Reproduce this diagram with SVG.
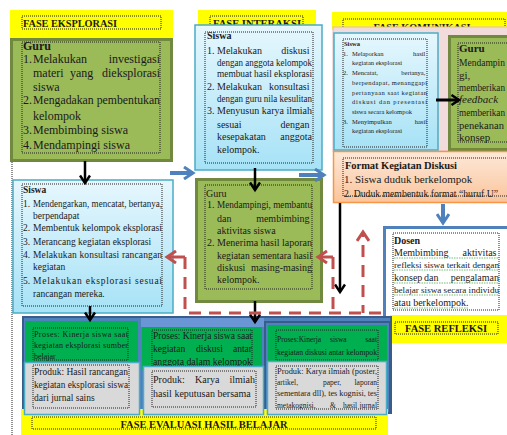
<svg xmlns="http://www.w3.org/2000/svg" width="507" height="435" viewBox="0 0 507 435">
<defs>
<linearGradient id="gBlue" x1="0" y1="0" x2="0" y2="1"><stop offset="0" stop-color="#E6F7FD"/><stop offset="1" stop-color="#A6E2F6"/></linearGradient>
<linearGradient id="gOrange" x1="0" y1="0" x2="0" y2="1"><stop offset="0" stop-color="#FDE9DA"/><stop offset="1" stop-color="#FAC49A"/></linearGradient>
<clipPath id="clipC3"><rect x="267" y="362" width="119" height="47"/></clipPath>
<marker id="ak" markerWidth="12" markerHeight="12" refX="9" refY="6" orient="auto" markerUnits="userSpaceOnUse"><path d="M1.5,1 L9,6 L1.5,11" fill="none" stroke="#000" stroke-width="2.5"/></marker>
<marker id="ab" markerWidth="14" markerHeight="14" refX="11" refY="7" orient="auto" markerUnits="userSpaceOnUse"><path d="M2,1 L11,7 L2,13" fill="none" stroke="#4F81BD" stroke-width="3"/></marker>
<marker id="ar" markerWidth="14" markerHeight="14" refX="11" refY="7" orient="auto" markerUnits="userSpaceOnUse"><path d="M2,1 L11,7 L2,13" fill="none" stroke="#C0504D" stroke-width="3"/></marker>
</defs>
<style>
.s{font-family:"Liberation Serif","Times New Roman",serif;fill:#1a1a1a}
.b{font-weight:bold}
.i{font-style:italic}
.dot{fill:none;stroke:#222;stroke-width:1;stroke-dasharray:1 1}
.yel{fill:#FFFF00}
.grn{fill:#9BBB59;stroke:#71893F;stroke-width:3}
.blu{fill:url(#gBlue);stroke:#4BACC6;stroke-width:1.5}
.ev{fill:#00B050}
.gry{fill:#D9D9D9;stroke:#4BACC6;stroke-width:1.5}
.f12{font-size:12px}
.f11{font-size:11px}
.f10{font-size:10px}
.f95{font-size:9.5px}
.f8{font-size:8px}
.f75{font-size:7.5px}
.f65{font-size:6.5px}
.bk{fill:none;stroke:#000;stroke-width:2.5}
.bl{fill:none;stroke:#4F81BD;stroke-width:4}
.rd{fill:none;stroke:#C0504D;stroke-width:3;stroke-dasharray:12 8}
.sq{fill:none;stroke:#4CAF50;stroke-width:0.8;stroke-dasharray:1.5 1}
</style>

<rect width="507" height="435" fill="#FFFFFF"/>
<line x1="12" y1="162" x2="12" y2="435" class="dot"/>

<!-- FASE EKSPLORASI header -->
<g id="fase-eksplorasi">
<rect x="10" y="10" width="163" height="28" class="yel"/>
<rect x="22" y="16" width="139" height="13" class="dot"/>
<text x="23" y="27" class="s b f10" textLength="94" lengthAdjust="spacingAndGlyphs">FASE EKSPLORASI</text>
</g>

<!-- Guru eksplorasi -->
<g id="guru-eksplorasi">
<rect x="11.5" y="39.5" width="160" height="121" class="grn"/>
<rect x="22" y="42" width="138" height="111" class="dot"/>
<text class="s f12">
<tspan x="23" y="50" class="b">Guru</tspan>
<tspan x="23" y="63">1.</tspan><tspan x="33" y="63">Melakukan</tspan>
<tspan x="33" y="77">materi</tspan><tspan x="70" y="77">yang</tspan>
<tspan x="33" y="91">siswa</tspan>
<tspan x="23" y="104">2.</tspan>
<tspan x="33" y="120">kelompok</tspan>
<tspan x="23" y="134">3.</tspan><tspan x="33" y="134">Membimbing siswa</tspan>
<tspan x="23" y="149">4.</tspan><tspan x="33" y="149">Mendampingi siswa</tspan>
</text>
<text x="160" y="63" class="s f12" text-anchor="end">investigasi</text>
<text x="160" y="77" class="s f12" text-anchor="end">dieksplorasi</text>
<text x="33" y="104" class="s f12" textLength="127" lengthAdjust="spacingAndGlyphs">Mengadakan pembentukan</text>
</g>

<!-- Siswa eksplorasi -->
<g id="siswa-eksplorasi">
<rect x="13" y="180" width="160" height="133" class="blu"/>
<rect x="22" y="184" width="140" height="122" class="dot"/>
<text class="s f95">
<tspan x="23" y="193" class="b">Siswa</tspan>
<tspan x="23" y="207">1.</tspan>
<tspan x="33" y="219">berpendapat</tspan>
<tspan x="23" y="231">2.</tspan>
<tspan x="23" y="245">3.</tspan><tspan x="33" y="245">Merancang kegiatan eksplorasi</tspan>
<tspan x="23" y="258">4.</tspan>
<tspan x="33" y="270">kegiatan</tspan>
<tspan x="23" y="284">5.</tspan>
<tspan x="33" y="297">rancangan mereka.</tspan>
</text>
<text x="33" y="207" class="s f95" textLength="129" lengthAdjust="spacingAndGlyphs">Mendengarkan, mencatat, bertanya,</text>
<text x="33" y="231" class="s f95" textLength="129" lengthAdjust="spacingAndGlyphs">Membentuk kelompok eksplorasi</text>
<text x="33" y="258" class="s f95" textLength="129" lengthAdjust="spacing">Melakukan konsultasi rancangan</text>
<text x="33" y="284" class="s f95" textLength="129" lengthAdjust="spacing">Melakukan eksplorasi sesuai</text>
</g>

<!-- FASE INTERAKSI header -->
<g id="fase-interaksi">
<rect x="198" y="10" width="118" height="16" class="yel"/>
<rect x="210" y="16" width="93" height="11" class="dot"/>
<text x="213" y="27" class="s b f10" textLength="88" lengthAdjust="spacingAndGlyphs">FASE INTERAKSI</text>
</g>

<!-- Siswa interaksi -->
<g id="siswa-interaksi">
<rect x="195" y="25" width="127" height="145" class="blu"/>
<rect x="205" y="32" width="108" height="131" class="dot"/>
<text class="s f10">
<tspan x="207" y="39" class="b">Siswa</tspan>
<tspan x="207" y="54">1.</tspan><tspan x="217" y="54">Melakukan</tspan>
<tspan x="207" y="90">2.</tspan><tspan x="217" y="90">Melakukan</tspan>
<tspan x="207" y="114">3.</tspan>
<tspan x="217" y="128">sesuai</tspan>
<tspan x="217" y="140">kesepakatan</tspan>
<tspan x="217" y="153">kelompok.</tspan>
</text>
<text class="s f10" text-anchor="end">
<tspan x="312" y="54">diskusi</tspan>
<tspan x="312" y="90">konsultasi</tspan>
<tspan x="312" y="128">dengan</tspan>
<tspan x="312" y="140">anggota</tspan>
</text>
<text x="217" y="66" class="s f10" textLength="95" lengthAdjust="spacingAndGlyphs">dengan anggota kelompok</text>
<text x="217" y="77" class="s f10" textLength="95" lengthAdjust="spacingAndGlyphs">membuat hasil eksplorasi</text>
<text x="217" y="102" class="s f10" textLength="95" lengthAdjust="spacingAndGlyphs">dengan guru nila kesulitan</text>
<text x="217" y="114" class="s f10" textLength="95" lengthAdjust="spacing">Menyusun karya ilmiah</text>
</g>

<!-- Guru interaksi -->
<g id="guru-interaksi">
<rect x="196.5" y="179.5" width="125" height="122" class="grn"/>
<rect x="205" y="185" width="107" height="104" class="dot"/>
<text class="s f10">
<tspan x="206" y="197">Guru</tspan>
<tspan x="207" y="208">1.</tspan>
<tspan x="217" y="222">dan</tspan>
<tspan x="217" y="234">aktivitas siswa</tspan>
<tspan x="207" y="246">2.</tspan>
<tspan x="217" y="271">diskusi</tspan>
<tspan x="217" y="283">kelompok.</tspan>
</text>
<text class="s f10" text-anchor="end">
<tspan x="312" y="222">membimbing</tspan>
<tspan x="312" y="271">masing-masing</tspan>
</text>
<text x="217" y="208" class="s f10" textLength="95" lengthAdjust="spacingAndGlyphs">Mendampingi, membantu</text>
<text x="217" y="246" class="s f10" textLength="95" lengthAdjust="spacing">Menerima hasil laporan</text>
<text x="217" y="259" class="s f10" textLength="95" lengthAdjust="spacingAndGlyphs">kegiatan sementara hasil</text>
</g>

<!-- FASE KOMUNIKASI -->
<g id="fase-komunikasi">
<rect x="332" y="12" width="175" height="18" class="yel"/>
<rect x="343" y="19" width="162" height="12" class="dot"/>
<text x="422" y="31" class="s b f11" text-anchor="middle" textLength="97" lengthAdjust="spacingAndGlyphs">FASE KOMUNIKASI</text>
<rect x="333" y="27" width="175" height="124" fill="#F2DCDB" stroke="#E6B9B8" stroke-width="1"/>
</g>

<!-- Siswa komunikasi -->
<g id="siswa-komunikasi">
<rect x="334" y="33" width="104" height="117" class="blu"/>
<rect x="343" y="39" width="84" height="108" class="dot"/>
<text class="s f65">
<tspan x="344" y="46" class="b">Siswa</tspan>
<tspan x="343" y="56">1.</tspan><tspan x="352" y="56">Melaporkan</tspan>
<tspan x="352" y="65">kegiatan eksplorasi</tspan>
<tspan x="343" y="75">2.</tspan><tspan x="352" y="75">Mencatat,</tspan>
<tspan x="352" y="114">siswa secara kelompok</tspan>
<tspan x="343" y="124">3.</tspan><tspan x="352" y="124">Menyimpulkan</tspan>
<tspan x="352" y="133">kegiatan eksplorasi</tspan>
</text>
<text class="s f65" text-anchor="end">
<tspan x="427" y="56">hasil</tspan>
<tspan x="427" y="75">bertanya,</tspan>
<tspan x="427" y="124">hasil</tspan>
</text>
<text x="352" y="85" class="s f65" textLength="75" lengthAdjust="spacing">berpendapat, menanggapi</text>
<text x="352" y="95" class="s f65" textLength="75" lengthAdjust="spacing">pertanyaan saat kegiatan</text>
<text x="352" y="104" class="s f65" textLength="75" lengthAdjust="spacing">diskusi dan presentasi</text>
</g>

<!-- Guru komunikasi -->
<g id="guru-komunikasi">
<rect x="449.5" y="36.5" width="62" height="113" class="grn"/>
<rect x="458" y="43" width="60" height="99" class="dot"/>
<text x="459" y="52" class="s b f11">Guru</text>
<text x="459" y="66" class="s" font-size="9.5px" textLength="46" lengthAdjust="spacingAndGlyphs">Mendampin</text>
<text x="459" y="79" class="s f11">gi,</text>
<text x="459" y="91" class="s" font-size="9.5px" textLength="46" lengthAdjust="spacingAndGlyphs">memberikan</text>
<text x="459" y="103" class="s f11 i">feedback</text>
<text x="459" y="116" class="s" font-size="9.5px" textLength="46" lengthAdjust="spacingAndGlyphs">memberikan</text>
<text x="459" y="129" class="s" font-size="10px" textLength="45" lengthAdjust="spacingAndGlyphs">penekanan</text>
<text x="459" y="141" class="s f11">konsep</text>
</g>

<!-- Format Kegiatan Diskusi -->
<g id="format-diskusi">
<rect x="333.5" y="151.5" width="176" height="51" fill="url(#gOrange)" stroke="#F79646" stroke-width="1.5"/>
<text x="345" y="169" class="s b" font-size="10.5px" textLength="112" lengthAdjust="spacing">Format Kegiatan Diskusi</text>
<text x="344" y="183" class="s f11">1. Siswa duduk berkelompok</text>
<text x="344" y="197" class="s f10" textLength="154" lengthAdjust="spacingAndGlyphs">2. Duduk membentuk format “huruf U”</text>
<rect x="343" y="158" width="166" height="38" class="dot"/>
</g>

<!-- Dosen -->
<g id="dosen">
<rect x="384.5" y="227.5" width="125" height="90" fill="#FFFFFF" stroke="#4F81BD" stroke-width="3"/>
<rect x="393" y="233" width="106" height="77" class="dot"/>
<text class="s f10">
<tspan x="394" y="244" class="b">Dosen</tspan>
<tspan x="394" y="256">Membimbing</tspan>
<tspan x="394" y="281">konsep</tspan><tspan x="424" y="281">dan</tspan>
<tspan x="394" y="306">atau berkelompok.</tspan>
</text>
<text class="s f10" text-anchor="end">
<tspan x="499" y="256">aktivitas</tspan>
<tspan x="499" y="281">pengalaman</tspan>
</text>
<text x="394" y="268" class="s" font-size="9px" textLength="105" lengthAdjust="spacingAndGlyphs">refleksi siswa terkait dengan</text>
<text x="394" y="293" class="s" font-size="9px" textLength="105" lengthAdjust="spacingAndGlyphs">belajar siswa secara individu</text>
<path class="sq" d="M394,258 H499 M394,270 H499 M394,283 H499 M394,295 H499 M394,308 H468"/>
</g>

<!-- FASE REFLEKSI -->
<g id="fase-refleksi">
<rect x="390" y="315" width="117" height="28" class="yel"/>
<rect x="395" y="322" width="103" height="12" class="dot"/>
<text x="446" y="332" class="s b f11" text-anchor="middle" textLength="82" lengthAdjust="spacingAndGlyphs">FASE REFLEKSI</text>
</g>

<!-- Evaluasi container -->
<g id="evaluasi-container">
<rect x="23" y="317" width="368" height="96" fill="#4F81BD" stroke="#385D8A" stroke-width="2"/>
<rect x="141" y="318" width="123" height="9" fill="#6A96D6"/>
<rect x="265" y="322" width="125" height="91" fill="#4F81BD" stroke="#385D8A" stroke-width="2"/>
</g>

<!-- FASE EVALUASI -->
<g id="fase-evaluasi">
<rect x="21" y="409" width="367" height="26" class="yel"/>
<rect x="32" y="417" width="344" height="12" class="dot"/>
<text x="204" y="428" class="s b f11" text-anchor="middle" textLength="167" lengthAdjust="spacingAndGlyphs">FASE EVALUASI HASIL BELAJAR</text>
</g>

<!-- Kolom 1 -->
<g id="evaluasi-eksplorasi">
<rect x="25" y="321" width="113" height="48" class="ev"/>
<rect x="33" y="328" width="95" height="32" class="dot"/>
<text x="34" y="337" class="s f8" textLength="94" lengthAdjust="spacing">Proses: Kinerja siswa saat</text>
<text x="34" y="348" class="s f8" textLength="94" lengthAdjust="spacing">kegiatan eksplorasi sumber</text>
<text x="34" y="359" class="s f8">belajar</text>
<rect x="24.5" y="362.5" width="115" height="52" class="gry"/>
<rect x="33" y="365" width="96" height="43" class="dot"/>
<text x="34" y="375" class="s f95" textLength="94" lengthAdjust="spacing">Produk: Hasil rancangan</text>
<text x="34" y="388" class="s f95" textLength="94" lengthAdjust="spacingAndGlyphs">kegiatan eksplorasi siswa</text>
<text x="34" y="401" class="s f95">dari jurnal sains</text>
</g>

<!-- Kolom 2 -->
<g id="evaluasi-interaksi">
<rect x="142" y="327" width="120" height="42" class="ev"/>
<rect x="152" y="330" width="100" height="36" class="dot"/>
<text x="153" y="339" class="s f95" textLength="99" lengthAdjust="spacing">Proses: Kinerja siswa saat</text>
<text class="s f95"><tspan x="153" y="352">kegiatan</tspan><tspan x="196" y="352">diskusi</tspan></text>
<text x="252" y="352" class="s f95" text-anchor="end">antar</text>
<text x="153" y="365" class="s f95" textLength="99" lengthAdjust="spacingAndGlyphs">anggota dalam kelompok</text>
<rect x="143.5" y="366.5" width="120" height="48" class="gry"/>
<rect x="152" y="371" width="104" height="36" class="dot"/>
<text class="s f10"><tspan x="153" y="383">Produk:</tspan><tspan x="195" y="383">Karya</tspan></text>
<text x="255" y="383" class="s f10" text-anchor="end">ilmiah</text>
<text x="153" y="397" class="s f10">hasil keputusan bersama</text>
</g>

<!-- Kolom 3 -->
<g id="evaluasi-komunikasi">
<rect x="268" y="325" width="119" height="45" class="ev"/>
<rect x="276" y="330" width="102" height="30" class="dot"/>
<text class="s f75"><tspan x="277" y="342">Proses:Kinerja</tspan><tspan x="330" y="342">siswa</tspan></text>
<text x="377" y="342" class="s f75" text-anchor="end">saat</text>
<text x="277" y="355" class="s f75" textLength="100" lengthAdjust="spacingAndGlyphs">kegiatan diskusi antar kelompok</text>
<rect x="267.5" y="361.5" width="119" height="53" class="gry"/>
<g clip-path="url(#clipC3)">
<text x="277" y="374" class="s f75" textLength="100" lengthAdjust="spacingAndGlyphs">Produk: Karya ilmiah (poster,</text>
<text class="s f75"><tspan x="277" y="385">artikel,</tspan><tspan x="323" y="385">paper,</tspan></text>
<text x="377" y="385" class="s f75" text-anchor="end">laporan</text>
<text x="277" y="396" class="s f75" textLength="100" lengthAdjust="spacingAndGlyphs">sementara dll), tes kognisi, tes</text>
<text class="s f75"><tspan x="277" y="408">metakognisi,</tspan><tspan x="330" y="408">&amp;</tspan><tspan x="343" y="408">hasil</tspan></text>
<text x="377" y="408" class="s f75" text-anchor="end">jurnal</text>
</g>
<rect x="276" y="366" width="102" height="43" class="dot"/>
</g>

<!-- Connectors -->
<g id="connectors">
<line x1="85" y1="161" x2="85" y2="183" class="bk" marker-end="url(#ak)"/>
<line x1="255" y1="168" x2="255" y2="190" class="bk" marker-end="url(#ak)"/>
<line x1="90" y1="306" x2="90" y2="320" class="bk" marker-end="url(#ak)"/>
<line x1="255" y1="301" x2="255" y2="322" class="bk" marker-end="url(#ak)"/>
<line x1="340" y1="203" x2="340" y2="292" class="bk" marker-end="url(#ak)"/>
<line x1="436" y1="100" x2="459" y2="100" stroke="#000" stroke-width="3" marker-end="url(#ak)"/>
<line x1="170" y1="173" x2="193" y2="173" class="bl" marker-end="url(#ab)"/>
<line x1="299" y1="175" x2="324" y2="175" class="bl" marker-end="url(#ab)"/>
<line x1="443" y1="204" x2="443" y2="223" class="bl" marker-end="url(#ab)"/>
<path class="rd" d="M185,257 V313 H383"/>
<path class="rd" d="M333,257 V313"/>
<line x1="185" y1="257" x2="167" y2="257" stroke="#C0504D" stroke-width="3" marker-end="url(#ar)"/>
<line x1="333" y1="257" x2="318" y2="257" stroke="#C0504D" stroke-width="3" marker-end="url(#ar)"/>
<path class="rd" d="M363,313 V232" stroke-dashoffset="4" marker-end="url(#ar)"/>
</g>
</svg>
